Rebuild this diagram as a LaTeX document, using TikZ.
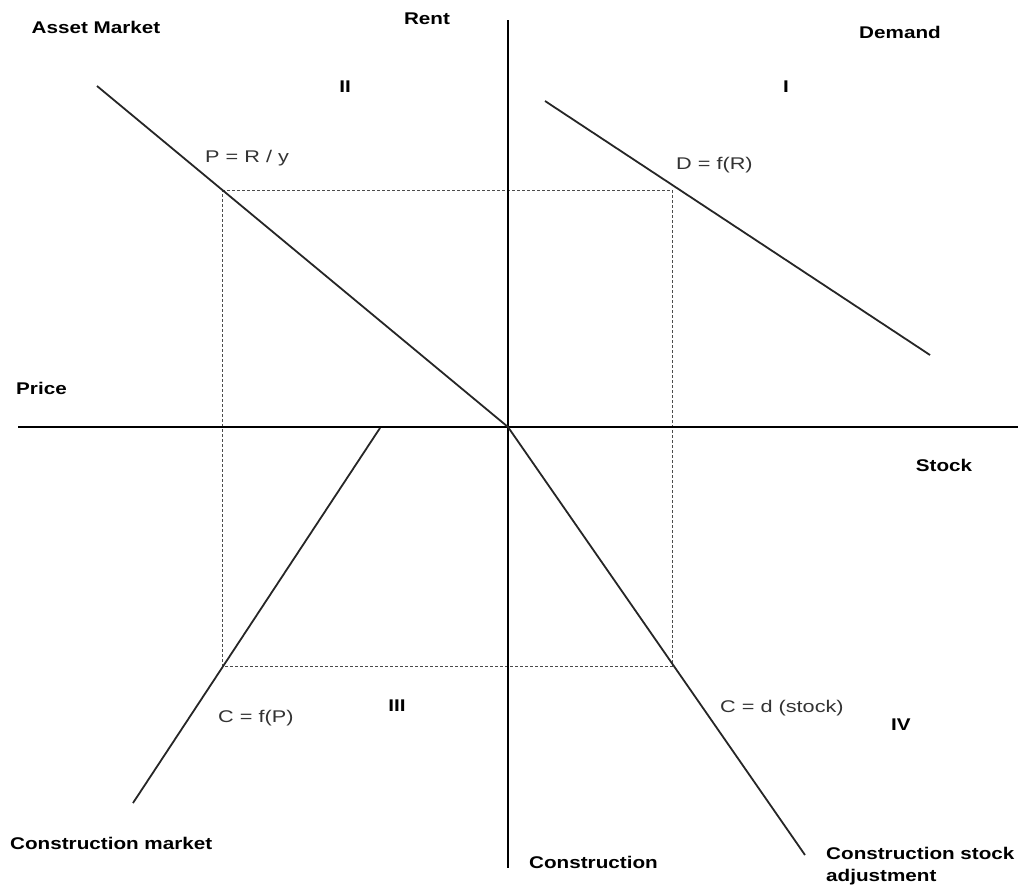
\documentclass[tikz,border=0pt]{standalone}
\usepackage{fontspec}
\setmainfont[FakeStretch=1.22]{Liberation Sans}
\newfontfamily\eqfont[FakeStretch=1.28]{Liberation Sans}
\begin{document}
\begin{tikzpicture}[x=1bp,y=-1bp,
  axis/.style={line width=1.8bp,black},
  curve/.style={line width=1.8bp,black!85},
  guide/.style={line width=0.8bp,dash pattern=on 3bp off 2bp,black!70},
  lbl/.style={font=\fontsize{17}{19}\selectfont\bfseries,inner sep=0pt},
  eq/.style={font=\eqfont\fontsize{17}{19}\selectfont,inner sep=0pt,text=black!80}]
\useasboundingbox (0,0) rectangle (1018,888);
% coordinates
\coordinate (vt) at (508,20);
\coordinate (vb) at (508,868);
\coordinate (hl) at (18,427);
\coordinate (hr) at (1018,427);
\coordinate (O) at (508,427);
\coordinate (a1) at (97,86);
\coordinate (d1) at (545,101);
\coordinate (d2) at (930,355);
\coordinate (c1) at (380,428);
\coordinate (c2) at (133,803);
\coordinate (s2) at (805,855);
\coordinate (r1) at (222,190);
\coordinate (r2) at (672,190);
\coordinate (r3) at (672,666);
\coordinate (r4) at (222,666);
% guide rectangle
\draw[guide] (r1) -- (r2) -- (r3) -- (r4) -- cycle;
% axes
\draw[axis] (vt) -- (vb);
\draw[axis] (hl) -- (hr);
% curves
\draw[curve] (a1) -- (O);
\draw[curve] (d1) -- (d2);
\draw[curve] (c1) -- (c2);
\draw[curve] (O) -- (s2);
% labels
\node[lbl] (tAsset) at (96,27) {Asset Market};
\node[lbl] (tRent) at (427,19) {Rent};
\node[lbl] (tDemand) at (900,32) {Demand};
\node[lbl] (tII) at (345,87) {II};
\node[lbl] (tI) at (786,87) {I};
\node[eq,anchor=west] (tP) at (205,158) {P = R / y};
\node[eq,anchor=west] (tD) at (676,165) {D = f(R)};
\node[lbl,anchor=west] (tPrice) at (16,388) {Price};
\node[lbl] (tStock) at (944,465) {Stock};
\node[eq,anchor=west] (tC) at (218,718) {C = f(P)};
\node[lbl] (tIII) at (397,706) {III};
\node[eq,anchor=west] (tCd) at (720,708) {C = d (stock)};
\node[lbl] (tIV) at (901,725) {IV};
\node[lbl,anchor=west] (tCm) at (10,843) {Construction market};
\node[lbl,anchor=west] (tCon) at (529,862) {Construction};
\node[lbl,anchor=west] (tCs1) at (826,853) {Construction stock};
\node[lbl,anchor=west] (tCs2) at (826,877) {adjustment};
\end{tikzpicture}
\end{document}
